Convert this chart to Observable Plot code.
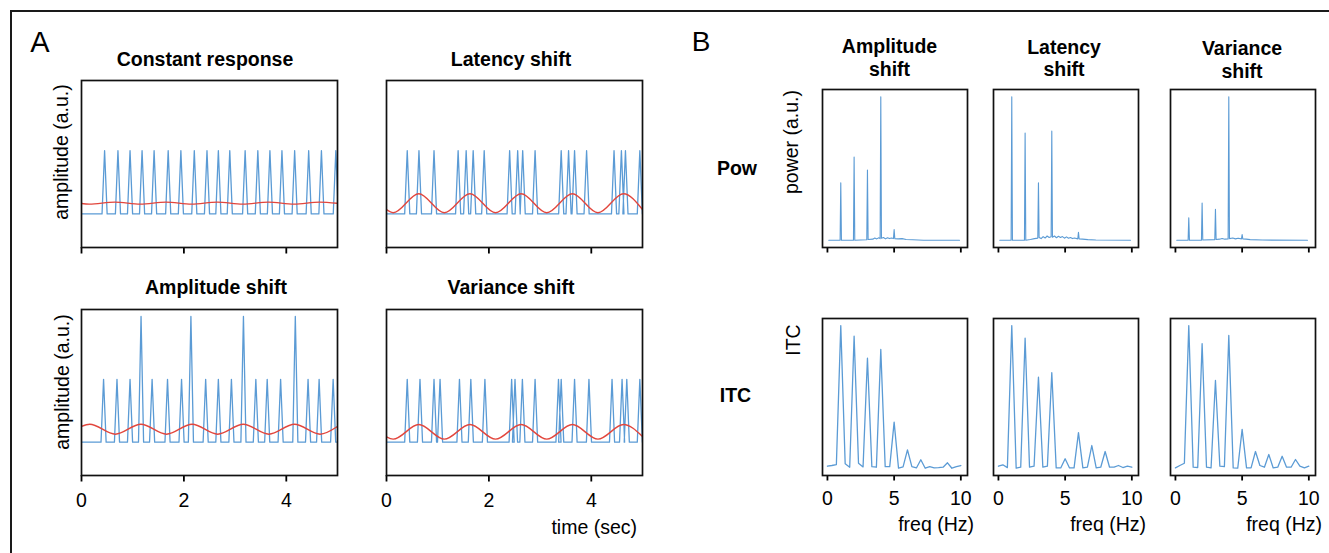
<!DOCTYPE html>
<html><head><meta charset="utf-8">
<script src="https://cdn.jsdelivr.net/npm/d3@7"></script>
<script src="https://cdn.jsdelivr.net/npm/@observablehq/plot@0.6"></script>
<style>
html,body{margin:0;padding:0;background:#fff;}
#fig{position:relative;width:1329px;height:553px;overflow:hidden;font-family:"Liberation Sans",Arial,sans-serif;color:#000;background:#fff;}
.lbl{position:absolute;white-space:nowrap;line-height:1;font-size:19.5px;}
.c{transform:translate(-50%,-50%);}
.r{transform:translate(-100%,-50%);}
.rot{transform:translate(-50%,-50%) rotate(-90deg);}
.b{font-weight:bold;}
.panel{position:absolute;}
.panel svg{overflow:visible;}
.panel svg g[aria-label^="x-axis"] line,
.panel svg g[aria-label="x-axis tick"] path{stroke-width:1.8px;}
</style></head><body><div id="fig"></div>
<script>
// ---------------- data ----------------
const timeTicks = [0, 2, 4];
const freqTicks = [0, 5, 10];

// A: spike times (sec) of the single-trial responses
const spikesConstant  = [0.451,0.712,0.948,1.183,1.418,1.693,1.941,2.203,2.451,2.673,2.896,3.196,3.444,3.680,3.915,4.163,4.437,4.686,4.967];
const heightsConstant = [1,1,1,1,1,1,1,1,1,1,1,1,1,1,1,1,1,1,1];
const spikesLatency   = [0.405,0.634,0.928,1.399,1.556,1.693,1.908,2.405,2.562,2.660,2.902,3.412,3.556,3.673,3.908,4.444,4.588,4.667,4.948];
const heightsLatency  = [1,1,1,1,1,1,1,1,1,1,1,1,1,1,1,1,1,1,1];
const spikesAmplitude = [0.431,0.693,0.948,1.163,1.379,1.680,1.954,2.137,2.425,2.673,2.928,3.163,3.405,3.627,3.889,4.176,4.425,4.641,4.915];
const heightsAmplitude= [1,1,1,2,1,1,1,2,1,1,1,2,1,1,1,2,1,1,1];
const spikesVariance  = [0.405,0.654,0.928,1.046,1.425,1.647,1.922,2.444,2.510,2.654,2.902,3.359,3.412,3.673,3.954,4.405,4.601,4.693,4.948];
const heightsVariance = [1,1,1,1,1,1,1,1,1,1,1,1,1,1,1,1,1,1,1];
const spikeHalfWidth = 0.05;

// A: averaged response (red), extremes
const meanTimeConstant  = [0,0.15,0.65,1.15,1.65,2.15,2.65,3.15,3.65,4.15,4.65,5];
const meanConstant      = [0.165,0.155,0.188,0.155,0.188,0.155,0.188,0.155,0.188,0.155,0.188,0.168];
const meanTimeLatency   = [0,0.13,0.63,1.13,1.63,2.13,2.63,3.13,3.63,4.13,4.63,5];
const meanLatency       = [0.07,0.02,0.32,0.02,0.32,0.02,0.32,0.02,0.32,0.02,0.32,0.07];
const meanTimeAmplitude = [0,0.16,0.66,1.16,1.66,2.16,2.66,3.16,3.66,4.16,4.66,5];
const meanAmplitude     = [0.25,0.286,0.127,0.286,0.127,0.286,0.127,0.286,0.127,0.286,0.127,0.25];
const meanTimeVariance  = [0,0.13,0.63,1.13,1.63,2.13,2.63,3.13,3.63,4.13,4.63,5];
const meanVariance      = [0.085,0.048,0.28,0.048,0.28,0.048,0.28,0.048,0.28,0.048,0.28,0.09];

// B: power spectra (normalised)
const powFreqAmplitude = [0.1,0.95,1,1.05,1.95,2,2.05,2.95,3,3.05,3.4,3.55,3.7,3.85,3.95,4,4.05,4.2,4.35,4.5,4.65,4.8,4.95,5,5.05,5.3,5.6,5.9,6.4,7.2,9.9];
const powAmplitude     = [0,0,0.40,0,0,0.58,0,0.004,0.49,0.006,0.008,0.016,0.01,0.018,0.012,1.0,0.014,0.02,0.01,0.018,0.012,0.016,0.012,0.075,0.012,0.01,0.012,0.006,0.004,0.001,0];
const powFreqLatency   = [0.1,0.95,1,1.05,1.95,2,2.05,2.4,2.7,2.95,3,3.05,3.2,3.35,3.5,3.65,3.8,3.95,4,4.05,4.2,4.35,4.5,4.65,4.8,4.95,5.1,5.25,5.4,5.55,5.7,5.95,6,6.05,6.3,6.7,7.3,9.9];
const powLatency       = [0,0,1.0,0,0,0.747,0,0.006,0.012,0.015,0.40,0.02,0.012,0.026,0.016,0.03,0.02,0.025,0.76,0.022,0.03,0.018,0.028,0.02,0.026,0.015,0.024,0.014,0.02,0.012,0.016,0.01,0.056,0.01,0.008,0.005,0.002,0];
const powFreqVariance  = [0.1,0.95,1,1.05,1.95,2,2.05,2.95,3,3.05,3.3,3.5,3.7,3.95,4,4.05,4.3,4.5,4.7,4.95,5,5.05,5.3,5.6,6.5,9.9];
const powVariance      = [0,0,0.157,0,0,0.26,0.002,0.005,0.216,0.006,0.008,0.013,0.008,0.01,1.0,0.012,0.016,0.01,0.015,0.01,0.04,0.01,0.008,0.005,0.002,0];

// B: inter-trial coherence
const itcFreq      = [0,0.33,0.67,1,1.33,1.67,2,2.33,2.67,3,3.33,3.67,4,4.33,4.67,5,5.33,5.67,6,6.33,6.67,7,7.33,7.67,8,8.33,8.67,9,9.33,9.67,10];
const itcAmplitude = [0.015,0.02,0.027,1.0,0.032,0.008,0.926,0.036,0.01,0.772,0.012,0.008,0.833,0.012,0.012,0.324,0.001,0.01,0.13,0.012,0.003,0.06,0.001,0.012,0.003,0.005,0.008,0.039,0.001,0.012,0.02];
const itcLatency   = [0.015,0.025,0.005,1.0,0.001,0.008,0.912,0.008,0.015,0.639,0.008,0.015,0.67,0.003,0.003,0.067,0.003,0.003,0.25,0.003,0.008,0.16,0.003,0.008,0.118,0.008,0.008,0.02,0.006,0.015,0.008];
const itcVariance  = [0.003,0.02,0.036,1.0,0.008,0.006,0.873,0.008,0.003,0.616,0.015,0.012,0.931,0.003,0.001,0.273,0.003,0.003,0.118,0.02,0.008,0.097,0.003,0.008,0.085,0.008,0.008,0.062,0.015,0.003,0.015];

// ---------------- style ----------------
const BLUE = "#5b9bd5", RED = "#e2463d";
const FONT = '"Liberation Sans", Arial, sans-serif';
const fig = document.getElementById("fig");

function zip(xs, ys) { return xs.map((x, i) => ({x, y: ys[i]})); }
function spikeTrain(times, heights) {
  const pts = [{x: 0, y: 0}];
  times.forEach((t, i) => {
    pts.push({x: t - spikeHalfWidth, y: 0}, {x: t, y: heights[i]}, {x: t + spikeHalfWidth, y: 0});
  });
  if (times[times.length - 1] + spikeHalfWidth < 5) pts.push({x: 5, y: 0});
  return pts;
}

function panel({left, top, w, h, xDomain, yDomain, xTicks, labels, tickSize, tickPadding, marks}) {
  const ml = 4, mr = 4, mt = 4, mb = 40;
  const chart = Plot.plot({
    width: w + ml + mr, height: h + mt + mb,
    marginLeft: ml, marginRight: mr, marginTop: mt, marginBottom: mb,
    x: {domain: xDomain, ticks: xTicks, tickSize, tickPadding,
        tickFormat: labels ? (d => String(d)) : (() => ""), label: null},
    y: {domain: yDomain, axis: null},
    style: {fontSize: "19.5px", fontFamily: FONT, background: "transparent", color: "#000", overflow: "visible"},
    marks: [...marks, Plot.frame({stroke: "#111", strokeWidth: 1.7})]
  });
  const d = document.createElement("div");
  d.className = "panel";
  d.style.left = (left - ml) + "px";
  d.style.top = (top - mt) + "px";
  d.appendChild(chart);
  fig.appendChild(d);
}

// ---------------- panel A ----------------
const aY = [-0.53, 2.11];
const aPanels = [
  {left: 81,  top: 80,  spikes: spikesConstant,  heights: heightsConstant,  mt: meanTimeConstant,  mv: meanConstant,  labels: false},
  {left: 386, top: 80,  spikes: spikesLatency,   heights: heightsLatency,   mt: meanTimeLatency,   mv: meanLatency,   labels: false},
  {left: 81,  top: 309, spikes: spikesAmplitude, heights: heightsAmplitude, mt: meanTimeAmplitude, mv: meanAmplitude, labels: true},
  {left: 386, top: 309, spikes: spikesVariance,  heights: heightsVariance,  mt: meanTimeVariance,  mv: meanVariance,  labels: true}
];
for (const p of aPanels) {
  panel({
    left: p.left, top: p.top, w: 256, h: 167 - (p.top === 309 ? 1 : 0),
    xDomain: [0, 5], yDomain: aY, xTicks: timeTicks, labels: p.labels,
    tickSize: 6.5, tickPadding: 11.5,
    marks: [
      Plot.line(spikeTrain(p.spikes, p.heights), {x: "x", y: "y", stroke: BLUE, strokeWidth: 1.3, clip: true}),
      Plot.line(zip(p.mt, p.mv), {x: "x", y: "y", stroke: RED, strokeWidth: 1.4, curve: "monotone-x", clip: true})
    ]
  });
}

// ---------------- panel B ----------------
const bX = [-0.37, 10.5], bY = [-0.05, 1.05];
const bCols = [
  {left: 822,  pf: powFreqAmplitude, pv: powAmplitude, iv: itcAmplitude},
  {left: 993,  pf: powFreqLatency,   pv: powLatency,   iv: itcLatency},
  {left: 1170, pf: powFreqVariance,  pv: powVariance,  iv: itcVariance}
];
for (const c of bCols) {
  panel({
    left: c.left, top: 89, w: 145, h: 158, xDomain: bX, yDomain: bY, xTicks: freqTicks, labels: false,
    tickSize: 5.5, tickPadding: 10.5,
    marks: [Plot.line(zip(c.pf, c.pv), {x: "x", y: "y", stroke: BLUE, strokeWidth: 1.1, clip: true})]
  });
  panel({
    left: c.left, top: 318, w: 145, h: 157, xDomain: bX, yDomain: bY, xTicks: freqTicks, labels: true,
    tickSize: 5.5, tickPadding: 10.5,
    marks: [Plot.line(zip(itcFreq, c.iv), {x: "x", y: "y", stroke: BLUE, strokeWidth: 1.3, clip: true})]
  });
}

// ---------------- text ----------------
function label(text, x, y, cls, size) {
  const d = document.createElement("div");
  d.className = "lbl " + cls;
  d.textContent = text;
  d.style.left = x + "px";
  d.style.top = y + "px";
  if (size) d.style.fontSize = size + "px";
  fig.appendChild(d);
}
label("A", 40, 42, "c", 29);
label("B", 701, 42, "c", 28);
label("Constant response", 205, 60, "c b");
label("Latency shift", 511, 60, "c b");
label("Amplitude shift", 216, 288, "c b");
label("Variance shift", 511, 288, "c b");
label("amplitude (a.u.)", 62, 152, "rot");
label("amplitude (a.u.)", 63, 382, "rot");
label("time (sec)", 637, 528, "r");
label("Amplitude", 889.5, 46.7, "c b");
label("shift", 889.5, 70, "c b");
label("Latency", 1064, 47.5, "c b");
label("shift", 1064, 69.5, "c b");
label("Variance", 1242, 48.8, "c b");
label("shift", 1242, 71.8, "c b");
label("Pow", 737, 169, "c b");
label("ITC", 735.5, 396, "c b");
label("power (a.u.)", 792, 141.5, "rot");
label("ITC", 794, 339.5, "rot");
label("freq (Hz)", 974, 525, "r");
label("freq (Hz)", 1146, 525, "r");
label("freq (Hz)", 1322, 525, "r");

// figure border (top and left edges)
const border = document.createElement("div");
border.style.cssText = "position:absolute;left:10px;top:10px;width:1340px;height:560px;border-top:2.6px solid #1a1a1a;border-left:2.6px solid #1a1a1a;pointer-events:none;";
fig.appendChild(border);
</script></body></html>
